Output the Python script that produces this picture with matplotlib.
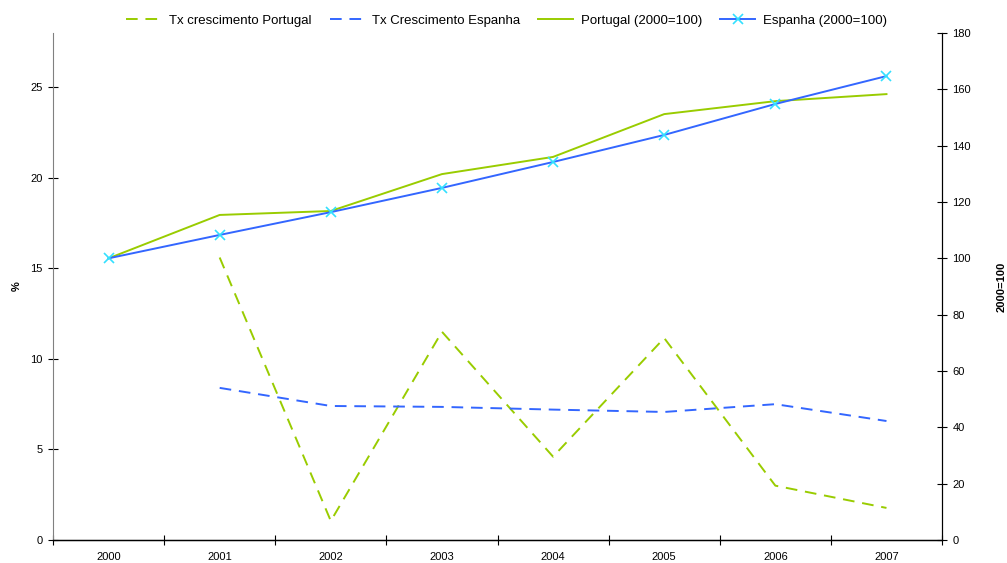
import numpy as np
import matplotlib
matplotlib.use('Agg')
import matplotlib.pyplot as plt
from matplotlib.ticker import FixedLocator

plt.rcParams['font.family'] = ['Liberation Sans', 'DejaVu Sans']

anos = ['2000', '2001', '2002', '2003', '2004', '2005', '2006', '2007']
tx_portugal = [None, 15.6, 1.05, 11.5, 4.6, 11.15, 3.0, 1.77]
tx_espanha = [None, 8.4, 7.4, 7.35, 7.2, 7.07, 7.5, 6.57]
idx_portugal = [100, 115.4, 116.8, 129.9, 136.0, 151.2, 155.8, 158.3]
idx_espanha = [100, 108.3, 116.4, 125.0, 134.2, 143.8, 154.8, 164.7]

verde = '#99CC00'
azul = '#3366FF'

fig = plt.figure(figsize=(10.07, 5.63), dpi=100)
ax = fig.add_axes([0.0526, 0.0409, 0.8829, 0.9005])
ax2 = ax.twinx()

x = np.arange(len(anos))
tp = np.array([np.nan if v is None else v for v in tx_portugal])
te = np.array([np.nan if v is None else v for v in tx_espanha])

l1, = ax.plot(x, tp, color=verde, lw=1.4, dashes=(6, 4), label='Tx crescimento Portugal')
l2, = ax.plot(x, te, color=azul, lw=1.4, dashes=(6, 4), label='Tx Crescimento Espanha')
l3, = ax2.plot(x, idx_portugal, color=verde, lw=1.4, label='Portugal (2000=100)')
l4, = ax2.plot(x, idx_espanha, color=azul, lw=1.4, marker='x', ms=7, mec='#33E0FF',
               mew=1.2, label='Espanha (2000=100)')

ax.set_xlim(-0.5, 7.5)
ax.set_ylim(0, 28)
ax2.set_ylim(0, 180)
ax.set_yticks([0, 5, 10, 15, 20, 25])
ax2.set_yticks(range(0, 181, 20))

ax.set_xticks(x)
ax.set_xticklabels(anos)
ax.xaxis.set_minor_locator(FixedLocator(np.arange(-0.5, 8, 1)))
ax.tick_params(axis='x', which='major', length=0, pad=9, labelsize=8)
ax.tick_params(axis='x', which='minor', direction='inout', length=7, width=0.8)
ax.tick_params(axis='y', direction='inout', length=7, width=0.8, labelsize=8, pad=4)
ax2.tick_params(axis='y', direction='inout', length=7, width=0.8, labelsize=8, pad=4)

for a in (ax, ax2):
    a.spines['top'].set_visible(False)
ax.spines['left'].set_color('#808080')
ax2.spines['left'].set_visible(False)
ax.spines['bottom'].set_linewidth(1.0)
ax2.spines['right'].set_linewidth(0.8)

ax.set_ylabel('%', fontsize=8, fontweight='bold')
ax.yaxis.set_label_coords(-0.035, 0.5)
ax2.set_ylabel('2000=100', fontsize=8, fontweight='bold')
ax2.yaxis.set_label_coords(1.061, 0.5)

fig.legend(handles=[l1, l2, l3, l4], loc='center', bbox_to_anchor=(0.503, 0.963),
           ncol=4, frameon=False, fontsize=9.5, handlelength=2.6, columnspacing=1.4,
           handletextpad=0.6)

fig.savefig('out.png', dpi=100)
